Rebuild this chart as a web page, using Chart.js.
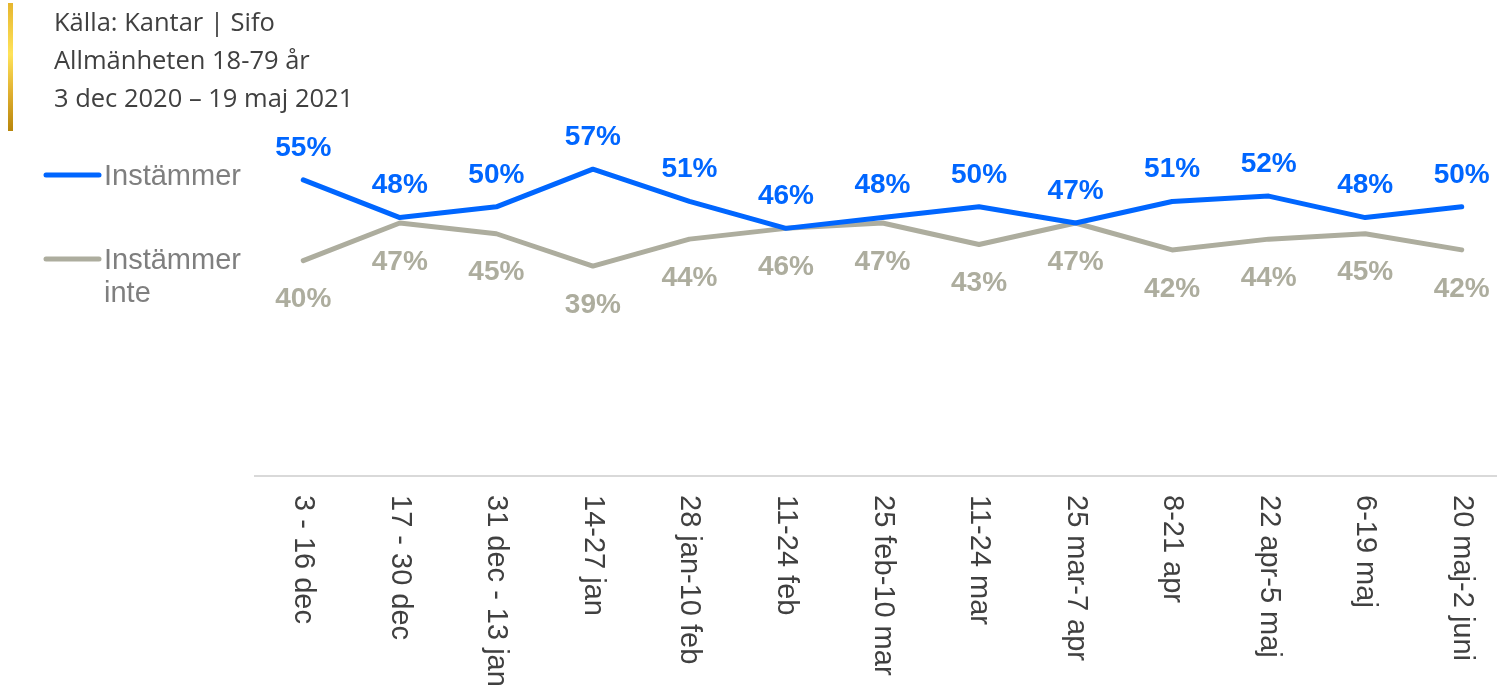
<!DOCTYPE html>
<html lang="sv">
<head>
<meta charset="utf-8">
<script src="https://cdn.jsdelivr.net/npm/chart.js@4"></script>
<style>
  html, body { margin: 0; padding: 0; background: #fff; overflow: hidden; }
  #wrap { position: absolute; left: 0; top: 0; width: 1510px; height: 685px; }
  #goldBar {
    position: absolute; left: 8px; top: 3px; width: 5px; height: 128px;
    background: linear-gradient(to bottom, #e6b62e 0%, #ffe35a 40%, #e0b030 70%, #b8860b 100%);
  }
  #source {
    position: absolute; left: 54px; top: 2px;
    font-family: "Open Sans", Lato, sans-serif; font-size: 25.5px; line-height: 38px;
    color: #404040;
  }
</style>
</head>
<body>
<div id="wrap">
  <canvas id="trendChart" width="1510" height="685"></canvas>
  <div id="goldBar"></div>
  <div id="source">Källa: Kantar | Sifo<br>Allmänheten 18-79 år<br>3 dec 2020 – 19 maj 2021</div>
</div>
<script>
const perioder = ['3 - 16 dec', '17 - 30 dec', '31 dec - 13 jan', '14-27 jan', '28 jan-10 feb',
  '11-24 feb', '25 feb-10 mar', '11-24 mar', '25 mar-7 apr', '8-21 apr', '22 apr-5 maj',
  '6-19 maj', '20 maj-2 juni'];
const instammer = [55, 48, 50, 57, 51, 46, 48, 50, 47, 51, 52, 48, 50];
const instammerInte = [40, 47, 45, 39, 44, 46, 47, 43, 47, 42, 44, 45, 42];
const serieNamn = ['Instämmer', 'Instämmer\ninte'];

const BLA = '#0066ff';
const GRA = '#adad9e';

// procentetiketter ovanför (blå) och under (grå) punkterna
const etiketter = {
  id: 'etiketter',
  afterDatasetsDraw(chart) {
    const ctx = chart.ctx;
    ctx.save();
    ctx.font = 'bold 28px "Liberation Sans", Arial, sans-serif';
    ctx.textAlign = 'center';
    ctx.textBaseline = 'middle';
    chart.data.datasets.forEach((ds, i) => {
      const meta = chart.getDatasetMeta(i);
      ctx.fillStyle = ds.borderColor;
      meta.data.forEach((pt, j) => {
        const dy = i === 0 ? -32 : 39;
        ctx.fillText(ds.data[j] + '%', pt.x, pt.y + dy);
      });
    });
    ctx.restore();
  }
};

// kategorietiketter roterade 90 grader medurs
const periodEtiketter = {
  id: 'periodEtiketter',
  afterDraw(chart) {
    const ctx = chart.ctx;
    const x = chart.scales.x;
    ctx.save();
    ctx.font = '29px "Liberation Sans", Arial, sans-serif';
    ctx.fillStyle = '#404040';
    ctx.textAlign = 'left';
    ctx.textBaseline = 'middle';
    chart.data.labels.forEach((lbl, i) => {
      ctx.save();
      ctx.translate(x.getPixelForValue(i), chart.chartArea.bottom + 19);
      ctx.rotate(Math.PI / 2);
      ctx.fillText(lbl, 0, 0);
      ctx.restore();
    });
    ctx.restore();
  }
};

// förklaring till vänster
const forklaring = {
  id: 'forklaring',
  afterDraw(chart) {
    const ctx = chart.ctx;
    const rader = [175, 259];
    ctx.save();
    ctx.font = '29px "Liberation Sans", Arial, sans-serif';
    ctx.textBaseline = 'middle';
    chart.data.datasets.forEach((ds, i) => {
      const y = rader[i];
      ctx.strokeStyle = ds.borderColor;
      ctx.lineWidth = 5;
      ctx.lineCap = 'round';
      ctx.beginPath();
      ctx.moveTo(46, y);
      ctx.lineTo(99, y);
      ctx.stroke();
      ctx.fillStyle = '#7f7f7f';
      ds.label.split('\n').forEach((t, k) => {
        ctx.fillText(t, 104, y + 2 + k * 33);
      });
    });
    ctx.restore();
  }
};

new Chart(document.getElementById('trendChart'), {
  type: 'line',
  data: {
    labels: perioder,
    datasets: [
      { label: serieNamn[0], data: instammer, borderColor: BLA, backgroundColor: BLA },
      { label: serieNamn[1], data: instammerInte, borderColor: GRA, backgroundColor: GRA }
    ]
  },
  options: {
    responsive: false,
    animation: false,
    devicePixelRatio: 1,
    layout: { padding: { left: 255, right: 0, top: 153, bottom: 209 } },
    elements: {
      line: { borderWidth: 5, tension: 0, borderCapStyle: 'round', borderJoinStyle: 'round' },
      point: { radius: 0, hoverRadius: 0 }
    },
    plugins: {
      legend: { display: false },
      tooltip: { enabled: false }
    },
    scales: {
      x: {
        offset: true,
        grid: { display: false, drawTicks: false },
        border: { display: true, color: '#d9d9d9', width: 2 },
        ticks: { display: false }
      },
      y: { display: false, min: 0, max: 60 }
    }
  },
  plugins: [etiketter, periodEtiketter, forklaring]
});
</script>
</body>
</html>
